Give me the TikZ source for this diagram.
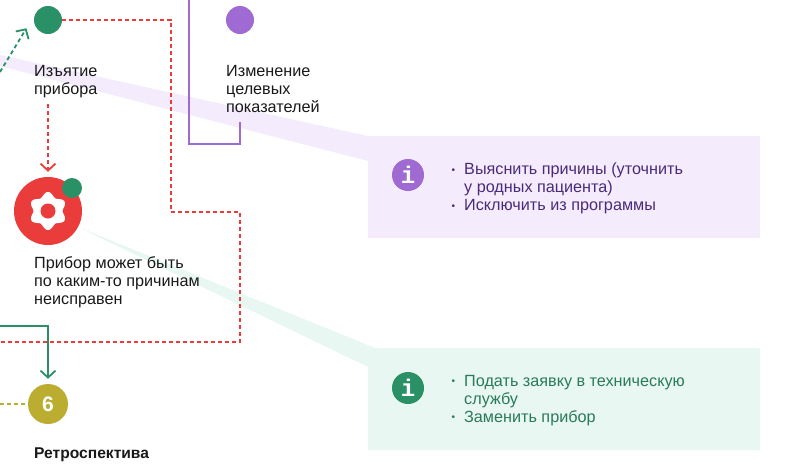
\documentclass[tikz,border=0pt]{standalone}
\usepackage{fontspec}
\setmainfont{Liberation Sans}
\newfontfamily\slabfont{Liberation Mono}
\usetikzlibrary{arrows.meta}
\definecolor{cviolet}{HTML}{9F6AD2}
\definecolor{cgreen}{HTML}{2A9066}
\definecolor{cred}{HTML}{EB3C3C}
\definecolor{cgold}{HTML}{BBAD2F}
\definecolor{lviolet}{HTML}{F4ECFC}
\definecolor{lgreen}{HTML}{E8F7F1}
\definecolor{tviolet}{HTML}{4B2A78}
\definecolor{tgreen}{HTML}{2A7A5C}
\newcommand{\itemdot}{\llap{\raisebox{1.5pt}{\fontsize{10}{10}\selectfont\textbullet}\hspace{9pt}}}

\begin{document}
\begin{tikzpicture}[
  x=1pt, y=-1pt,
  font=\fontsize{16.2}{18}\selectfont,
  dot/.style={circle, fill=#1, inner sep=0pt},
  lbl/.style={anchor=north west, align=left, inner sep=0pt, text=black!90},
  note/.style={anchor=north west, align=left, inner sep=0pt, text=#1},
  infoi/.style={circle, fill=#1, inner sep=0pt, minimum size=32pt, text=white, font=\slabfont\bfseries\fontsize{24}{24}\selectfont},
  arr/.style={-{Straight Barb[length=7pt, width=15pt, line width=1.8pt]}, line width=1.8pt, shorten >=5pt},
  redline/.style={cred, line width=1.8pt, dash pattern=on 4pt off 3pt},
  greenline/.style={cgreen, line width=1.8pt}
]
  \useasboundingbox (0,0) rectangle (806,464);

  \fill[lviolet] (0,55) -- (368,136) -- (760,136) -- (760,238) -- (368,238) -- (368,161) -- (0,66) -- cycle;
  \fill[lgreen] (78,227) -- (375,348) -- (760,348) -- (760,450) -- (368,450) -- (368,367) -- cycle;

  \coordinate (offtop) at (189,0);
  \coordinate (offred) at (0,342);
  \coordinate (offgreen) at (0,326);
  \coordinate (offarrow) at (0,72);
  \coordinate (offgold) at (0,404);
  \coordinate (belowtake) at (48,104);
  \coordinate (belowchange) at (240,122);
  \coordinate (neartake) at (29,24);

  \node[dot=cgreen, minimum size=28pt] (take) at (48,20) {};
  \node[dot=cviolet, minimum size=28pt] (change) at (240,20) {};
  \node[dot=cred, minimum size=68pt] (fault) at (48,211) {};
  \node[dot=cgold, minimum size=40pt, text=white, font=\bfseries\fontsize{21}{21}\selectfont] (six) at (48,404) {6};
  \node[infoi=cviolet] (infov) at (408,175) {i};
  \node[infoi=cgreen] (infog) at (408,388) {i};

  \fill[white, shift={(fault.center)}] plot[domain=0:360, samples=144] (\x:{16.8-2.2*cos(6*\x)}) -- cycle;
  \fill[cred] (fault.center) circle (7.5);
  \node[dot=cgreen, minimum size=20pt] (faultdot) at (72,188) {};

  \draw[redline] (take) -- (171,20) -- (171,212) -- (240,212) -- (240,342) -- (offred);
  \draw[redline, arr, dash pattern=on 4pt off 3pt] (belowtake) -- (fault);
  \draw[cviolet, line width=1.8pt] (offtop) -- (189,144) -- (240,144) -- (belowchange);
  \draw[greenline, arr] (offgreen) -- (48,326) -- (six);
  \draw[greenline, arr, dash pattern=on 4pt off 3pt] (offarrow) -- (neartake);
  \draw[cgold, line width=1.8pt, dash pattern=on 4pt off 3pt] (offgold) -- (six);

  \node[lbl] (taketext) at (34,65) {Изъятие\\прибора};
  \node[lbl] (changetext) at (226,65) {Изменение\\целевых\\показателей};
  \node[lbl] (faulttext) at (34,256) {Прибор может быть\\по каким-то причинам\\неисправен};
  \node[lbl, font=\bfseries\fontsize{15.6}{18}\selectfont] (sixtext) at (34,448) {Ретроспектива};
  \node[note=tviolet] (notev) at (464,163) {\itemdot Выяснить причины (уточнить\\у родных пациента)\\\itemdot Исключить из программы};
  \node[note=tgreen] (noteg) at (464,375) {\itemdot Подать заявку в техническую\\службу\\\itemdot Заменить прибор};
\end{tikzpicture}
\end{document}
